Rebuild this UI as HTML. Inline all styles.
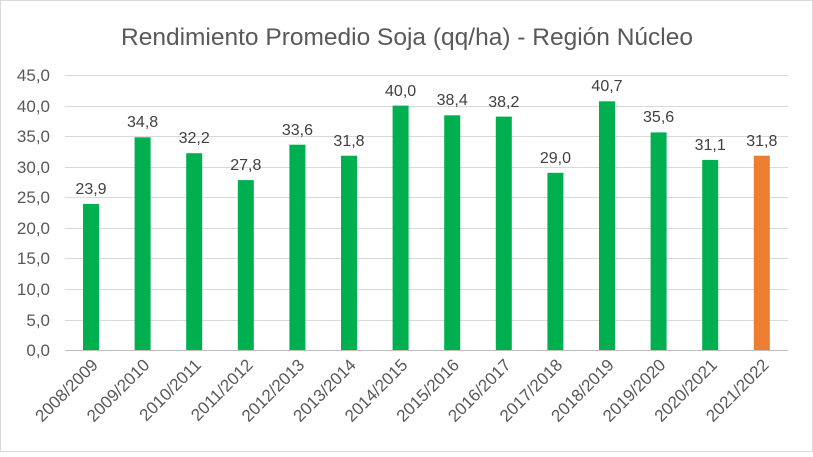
<!DOCTYPE html>
<html><head><meta charset="utf-8"><style>body{margin:0;background:#fff}</style></head><body>
<svg width="813" height="452" xmlns="http://www.w3.org/2000/svg" font-family="Liberation Sans, sans-serif">
<rect x="0.5" y="0.5" width="812" height="451" fill="#fff" stroke="#d9d9d9"/>
<text x="407" y="45" text-anchor="middle" font-size="24.5" fill="#595959">Rendimiento Promedio Soja (qq/ha) - Región Núcleo</text>
<g stroke="#d9d9d9" stroke-width="1">
<line x1="65" x2="788" y1="75.5" y2="75.5"/><line x1="65" x2="788" y1="106.5" y2="106.5"/>
<line x1="65" x2="788" y1="136.5" y2="136.5"/><line x1="65" x2="788" y1="167.5" y2="167.5"/>
<line x1="65" x2="788" y1="197.5" y2="197.5"/><line x1="65" x2="788" y1="228.5" y2="228.5"/>
<line x1="65" x2="788" y1="258.5" y2="258.5"/><line x1="65" x2="788" y1="289.5" y2="289.5"/>
<line x1="65" x2="788" y1="320.5" y2="320.5"/><line x1="65" x2="788" y1="350.5" y2="350.5" stroke="#bfbfbf"/>
</g>
<g font-size="17" fill="#595959" text-anchor="end">
<text x="50" y="81">45,0</text><text x="50" y="112">40,0</text><text x="50" y="142">35,0</text>
<text x="50" y="173">30,0</text><text x="50" y="203">25,0</text><text x="50" y="234">20,0</text>
<text x="50" y="264">15,0</text><text x="50" y="295">10,0</text><text x="50" y="326">5,0</text>
<text x="50" y="356">0,0</text>
</g>
<g fill="#00b050">
<rect x="83" y="203.9" width="16" height="146.1"/>
<rect x="134.6" y="137.3" width="16" height="212.7"/>
<rect x="186.2" y="153.2" width="16" height="196.8"/>
<rect x="237.8" y="180.1" width="16" height="169.9"/>
<rect x="289.4" y="144.7" width="16" height="205.3"/>
<rect x="341" y="155.7" width="16" height="194.3"/>
<rect x="392.6" y="105.6" width="16" height="244.4"/>
<rect x="444.2" y="115.3" width="16" height="234.7"/>
<rect x="495.8" y="116.6" width="16" height="233.4"/>
<rect x="547.4" y="172.8" width="16" height="177.2"/>
<rect x="599" y="101.3" width="16" height="248.7"/>
<rect x="650.6" y="132.4" width="16" height="217.6"/>
<rect x="702.2" y="159.9" width="16" height="190.1"/>
<rect x="753.8" y="155.7" width="16" height="194.3" fill="#ed7d31"/>
</g>
<g font-size="16" fill="#404040" text-anchor="middle">
<text x="91" y="194">23,9</text>
<text x="142.6" y="127">34,8</text>
<text x="194.2" y="143">32,2</text>
<text x="245.8" y="170">27,8</text>
<text x="297.4" y="135">33,6</text>
<text x="349" y="146">31,8</text>
<text x="400.6" y="96">40,0</text>
<text x="452.2" y="105">38,4</text>
<text x="503.8" y="107">38,2</text>
<text x="555.4" y="163">29,0</text>
<text x="607" y="91">40,7</text>
<text x="658.6" y="122">35,6</text>
<text x="710.2" y="150">31,1</text>
<text x="761.8" y="146">31,8</text>
</g>
<g font-size="17" fill="#595959" text-anchor="end">
<text transform="translate(99,366) rotate(-45)">2008/2009</text>
<text transform="translate(150.6,366) rotate(-45)">2009/2010</text>
<text transform="translate(202.2,366) rotate(-45)">2010/2011</text>
<text transform="translate(253.8,366) rotate(-45)">2011/2012</text>
<text transform="translate(305.4,366) rotate(-45)">2012/2013</text>
<text transform="translate(357,366) rotate(-45)">2013/2014</text>
<text transform="translate(408.6,366) rotate(-45)">2014/2015</text>
<text transform="translate(460.2,366) rotate(-45)">2015/2016</text>
<text transform="translate(511.8,366) rotate(-45)">2016/2017</text>
<text transform="translate(563.4,366) rotate(-45)">2017/2018</text>
<text transform="translate(615,366) rotate(-45)">2018/2019</text>
<text transform="translate(666.6,366) rotate(-45)">2019/2020</text>
<text transform="translate(718.2,366) rotate(-45)">2020/2021</text>
<text transform="translate(769.8,366) rotate(-45)">2021/2022</text>
</g>
</svg>
</body></html>
